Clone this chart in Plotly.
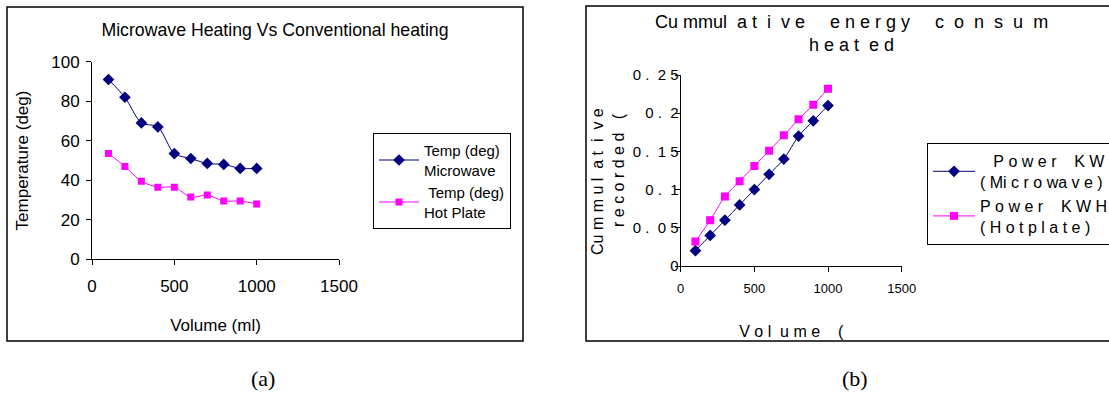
import plotly.graph_objects as go

W, H = 1109, 404
NB = "\u00a0"


def sp(s):
    return s.replace(" ", NB)


# ---- data (a)
volume_a = [100, 200, 300, 400, 500, 600, 700, 800, 900, 1000]
temp_microwave = [91, 82, 69, 67, 53.5, 51, 48.5, 48, 46, 46]
temp_hotplate = [53.5, 47, 39.5, 36.5, 36.5, 31.5, 32.5, 29.5, 29.5, 28]

# ---- data (b)
volume_b = [100, 200, 300, 400, 500, 600, 700, 800, 900, 1000]
power_microwave = [0.02, 0.04, 0.06, 0.08, 0.10, 0.12, 0.14, 0.17, 0.19, 0.21]
power_hotplate = [0.032, 0.06, 0.091, 0.111, 0.131, 0.151, 0.171, 0.192, 0.211, 0.232]

x_ticks = [0, 500, 1000, 1500]
ya_ticks = [0, 20, 40, 60, 80, 100]
yb_ticks = [0, 0.05, 0.1, 0.15, 0.2, 0.25]
yb_ticktext = ["0", sp("0 .  0 5"), sp("0 .  1"), sp("0 .  1 5"), sp("0 .  2"), sp("0 .  2 5")]

NAVY = "#000080"
MAG = "#FF00FF"
FONT = "Liberation Sans, Arial, sans-serif"
SERIF = "Liberation Serif, Times New Roman, serif"


def px(x):
    return x / W


def py(y):
    return 1 - y / H


fig = go.Figure()

fig.add_trace(go.Scatter(
    x=volume_a, y=temp_microwave, mode="lines+markers",
    name="Temp (deg)<br>Microwave",
    line=dict(color=NAVY, width=1, shape="spline", smoothing=0.8),
    marker=dict(symbol="diamond", size=9, color=NAVY),
    xaxis="x", yaxis="y", legend="legend"))
fig.add_trace(go.Scatter(
    x=volume_a, y=temp_hotplate, mode="lines+markers",
    name=NB + "Temp (deg)<br>Hot Plate",
    line=dict(color=MAG, width=1, shape="spline", smoothing=0.8),
    marker=dict(symbol="square", size=7, color=MAG),
    xaxis="x", yaxis="y", legend="legend"))

fig.add_trace(go.Scatter(
    x=volume_b, y=power_microwave, mode="lines+markers",
    name=sp("   P o w e r    K W H") + "<br>" + sp("( Mi c r o wa v e )"),
    line=dict(color=NAVY, width=1, shape="spline", smoothing=0.8),
    marker=dict(symbol="diamond", size=9, color=NAVY),
    xaxis="x2", yaxis="y2", legend="legend2"))
fig.add_trace(go.Scatter(
    x=volume_b, y=power_hotplate, mode="lines+markers",
    name=sp("P o w e r    K W H") + "<br>" + sp("( H o t p l a t e )"),
    line=dict(color=MAG, width=1, shape="spline", smoothing=0.8),
    marker=dict(symbol="square", size=8, color=MAG),
    xaxis="x2", yaxis="y2", legend="legend2"))

ax_common = dict(showgrid=False, zeroline=False, showline=True, linecolor="black",
                 linewidth=1, ticks="outside", ticklen=5, tickcolor="black",
                 tickwidth=1, fixedrange=True)
ov_common = dict(showgrid=False, zeroline=False, showline=False, ticks="inside",
                 ticklen=5, tickcolor="black", tickwidth=1, showticklabels=False,
                 fixedrange=True)

xa_dom = [px(92), px(339)]
ya_dom = [py(259.3), py(61.7)]
xb_dom = [px(680.7), px(901.7)]
yb_dom = [py(266), py(75)]

fig.update_layout(
    width=W, height=H,
    margin=dict(l=0, r=0, t=0, b=0, autoexpand=False),
    paper_bgcolor="white", plot_bgcolor="white",
    font=dict(family=FONT, color="black"),
    title=dict(text="Microwave Heating Vs Conventional heating",
               x=px(275), xanchor="center", y=py(30), yanchor="middle",
               font=dict(size=17.7, family=FONT, color="black")),
    xaxis=dict(domain=xa_dom, anchor="y", range=[0, 1500], tickvals=x_ticks,
               tickfont=dict(size=17), ticklabelstandoff=6,
               title=dict(text="Volume (ml)", font=dict(size=17), standoff=24),
               automargin=True, **ax_common),
    yaxis=dict(domain=ya_dom, anchor="x", range=[0, 100], tickvals=ya_ticks,
               tickfont=dict(size=17), ticklabelstandoff=3,
               title=dict(text="Temperature (deg)", font=dict(size=17), standoff=18),
               automargin=True, **ax_common),
    xaxis3=dict(overlaying="x", anchor="y", range=[0, 1500], tickvals=x_ticks, **ov_common),
    yaxis3=dict(overlaying="y", anchor="x", range=[0, 100], tickvals=ya_ticks, **ov_common),
    xaxis2=dict(domain=xb_dom, anchor="y2", range=[0, 1500], tickvals=x_ticks,
                tickfont=dict(size=13), ticklabelstandoff=5,
                title=dict(text=sp("       V o l  u m e    ("), font=dict(size=16), standoff=31),
                automargin=True, **ax_common),
    yaxis2=dict(domain=yb_dom, anchor="x2", range=[0, 0.25], tickvals=yb_ticks,
                ticktext=yb_ticktext, tickfont=dict(size=15), ticklabelstandoff=-7,
                title=dict(text=sp("Cu m m u l  a t  i  v e     ") + "<br>" + sp("r e c o r d e d   (     "),
                           font=dict(size=16), standoff=4),
                automargin=True, **ax_common),
    xaxis4=dict(overlaying="x2", anchor="y2", range=[0, 1500], tickvals=x_ticks, **ov_common),
    yaxis4=dict(overlaying="y2", anchor="x2", range=[0, 0.25], tickvals=yb_ticks, **ov_common),
    legend=dict(x=px(373), y=py(133), xanchor="left", yanchor="top",
                bordercolor="black", borderwidth=1, bgcolor="white", itemwidth=40,
                font=dict(size=15, family=FONT, color="black")),
    legend2=dict(x=px(927), y=py(143), xanchor="left", yanchor="top",
                 bordercolor="black", borderwidth=1, bgcolor="white", itemwidth=42,
                 font=dict(size=16, family=FONT, color="black")),
    showlegend=True,
)

# panel frames
fig.add_shape(type="rect", xref="paper", yref="paper",
              x0=px(7), x1=px(523), y0=py(341), y1=py(7),
              line=dict(color="black", width=1.5), layer="below")
fig.add_shape(type="path", xref="paper", yref="paper",
              path=f"M {px(1115)} {py(6)} L {px(586)} {py(6)} L {px(586)} {py(341)} L {px(1115)} {py(341)}",
              line=dict(color="black", width=1.5), layer="below")

# panel (b) title
fig.add_annotation(xref="paper", yref="paper", x=px(851), y=py(34), xanchor="center",
                   yanchor="middle", showarrow=False, align="center",
                   text=sp("Cu mmul  a t  i  v e     e n e r g y     c  o  n  s  u  m") + "<br>" + sp("h e a t  e d"),
                   font=dict(size=18, family=FONT, color="black"))

# sub-figure labels
fig.add_annotation(xref="paper", yref="paper", x=px(263), y=py(378), xanchor="center",
                   yanchor="middle", showarrow=False,
                   text="(a)", font=dict(size=22, family=SERIF, color="black"))
fig.add_annotation(xref="paper", yref="paper", x=px(855), y=py(378), xanchor="center",
                   yanchor="middle", showarrow=False,
                   text="(b)", font=dict(size=22, family=SERIF, color="black"))

fig.write_html("out.html", config={"displayModeBar": False},
               post_script="document.body.style.margin='0px';document.body.style.overflow='hidden';")
